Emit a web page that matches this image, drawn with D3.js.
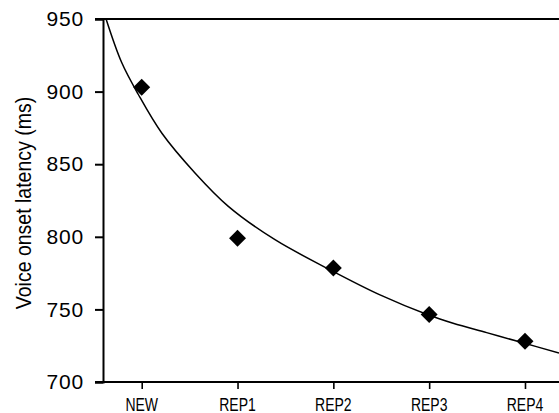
<!DOCTYPE html>
<html>
<head>
<meta charset="utf-8">
<script src="https://cdn.jsdelivr.net/npm/d3@7"></script>
<style>
  html,body{margin:0;padding:0;background:#fff;}
  svg{display:block;font-family:"Liberation Sans",Arial,sans-serif;}
  .ytick text{font-size:21px;letter-spacing:0.8px;}
</style>
</head>
<body>
<svg id="chart" width="559" height="413"></svg>
<script>
// ── data ──
const CATS=["NEW","REP1","REP2","REP3","REP4"];
const MEANS=[903,799,778.5,746.5,728];              // diamonds
// fitted curve (x in category units)
const FIT_X=[-0.372,-0.209,-0.035,0.209,0.556,0.904,1.391,1.965,2.487,3.0,3.25,3.6,3.95,4.355];
const FIT_Y=[950,920,898,871.5,844,821,798,777.3,760,746,740.5,734,727.5,720];
const Y_TICKS=[700,750,800,850,900,950];
const Y_LABEL="Voice onset latency (ms)";

const L=103,T=19,B=382,R=559;
const svg=d3.select("#chart");
const x=d3.scaleLinear().domain([-0.404,4.355]).range([L,R]);
const y=d3.scaleLinear().domain([700,950]).range([B,T]);

// y axis
const ya=svg.append("g").attr("class","ytick").attr("transform",`translate(${L},0)`)
  .call(d3.axisLeft(y).tickValues(Y_TICKS).tickSize(8).tickPadding(11));
ya.select(".domain").attr("stroke","#000").attr("stroke-width",2);
ya.selectAll(".tick line").attr("stroke","#000").attr("stroke-width",2);
ya.selectAll(".tick text").attr("fill","#000");

// x axis: ticks from d3, labels drawn tall & narrow like the scan
const xa=svg.append("g").attr("transform",`translate(0,${B})`)
  .call(d3.axisBottom(x).tickValues(d3.range(CATS.length)).tickFormat("").tickSize(7).tickSizeOuter(0));
xa.select(".domain").remove();
xa.selectAll(".tick line").attr("stroke","#000").attr("stroke-width",1.6);
svg.append("g").selectAll("text").data(CATS).join("text")
  .attr("transform",(d,i)=>`translate(${x(i)},410.5) scale(1,1.33)`)
  .attr("text-anchor","middle").attr("font-size",14).attr("fill","#000").text(d=>d);

// frame lines: bottom axis and top border
[B,T].forEach(yy=>svg.append("line").attr("x1",L-8).attr("x2",R).attr("y1",yy).attr("y2",yy)
  .attr("stroke","#000").attr("stroke-width",2));

// y label
svg.append("text").attr("transform",`translate(31,203) rotate(-90) scale(1,1.15)`)
  .attr("text-anchor","middle").attr("font-size",19.5).attr("fill","#000").text(Y_LABEL);

// fitted curve
const line=d3.line().x(d=>x(d[0])).y(d=>y(d[1])).curve(d3.curveCatmullRom.alpha(0.5));
svg.append("path").datum(FIT_X.map((v,i)=>[v,FIT_Y[i]]))
  .attr("d",line).attr("fill","none").attr("stroke","#000").attr("stroke-width",1.5);

// diamonds
const sym=d3.symbol(d3.symbolSquare,144);
svg.append("g").selectAll("path").data(MEANS).join("path")
  .attr("transform",(d,i)=>`translate(${x(i)},${y(d)}) rotate(45)`)
  .attr("d",sym).attr("fill","#000");
</script>
</body>
</html>
